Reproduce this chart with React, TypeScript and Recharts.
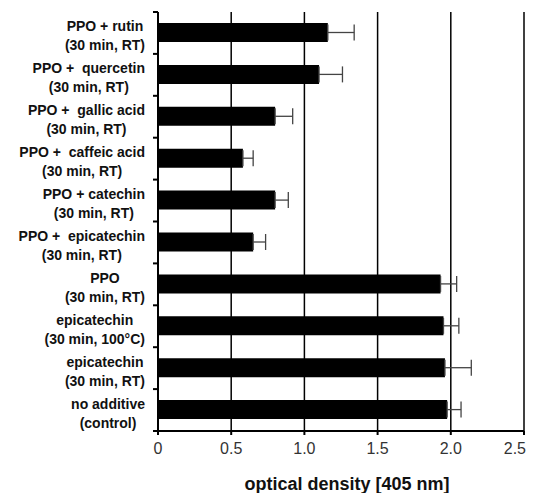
import React from 'react';
import { BarChart, Bar, XAxis, YAxis, CartesianGrid, ErrorBar } from 'recharts';

// top to bottom, as in the figure
const treatments = [
  'PPO + rutin',
  'PPO +  quercetin',
  'PPO +  gallic acid',
  'PPO +  caffeic acid',
  'PPO + catechin',
  'PPO +  epicatechin',
  'PPO',
  'epicatechin',
  'epicatechin',
  'no additive',
];
const conditions = [
  '(30 min, RT)',
  '(30 min, RT)',
  '(30 min, RT)',
  '(30 min, RT)',
  '(30 min, RT)',
  '(30 min, RT)',
  '(30 min, RT)',
  '(30 min, 100°C)',
  '(30 min, RT)',
  '(control)',
];
const density = [1.16, 1.1, 0.8, 0.58, 0.8, 0.65, 1.93, 1.95, 1.96, 1.975];
const sdUpper = [0.18, 0.16, 0.12, 0.07, 0.09, 0.085, 0.11, 0.105, 0.18, 0.095];
const xTicks = [0, 0.5, 1.0, 1.5, 2.0, 2.5];

const data = treatments.map((t, i) => ({
  name: t + '\n' + conditions[i],
  value: density[i],
  err: [0, sdUpper[i]],
}));

const W = 527;
const H = 485;
const MARGIN = { top: 4, right: 11, left: 0, bottom: 0 };
const Y_W = 150;
const X_H = 62;
const PLOT_LEFT = MARGIN.left + Y_W;
const PLOT_H = H - MARGIN.top - MARGIN.bottom - X_H;
const BAND = PLOT_H / data.length;
const FONT = '"Liberation Sans", Arial, Helvetica, sans-serif';

let ctx: CanvasRenderingContext2D | null = null;
const measure = (s: string) => {
  if (!ctx) ctx = document.createElement('canvas').getContext('2d');
  if (!ctx) return s.length * 8;
  ctx.font = `bold 14px ${FONT}`;
  return ctx.measureText(s.replace(/ /g, '\u00a0')).width;
};

const CategoryTick = (props: any) => {
  const { y, payload, index } = props;
  const [l1, l2] = String(payload.value).split('\n');
  const w = Math.max(measure(l1), measure(l2));
  const cx = PLOT_LEFT - 13 - w / 2;
  return (
    <g>
      <text x={cx} y={y - 6.5} textAnchor="middle" dominantBaseline="central" style={{ whiteSpace: 'pre' }}
        fontFamily={FONT} fontSize={14} fontWeight="bold" fill="#111">{l1}</text>
      <text x={cx} y={y + 12.5} textAnchor="middle" dominantBaseline="central"
        fontFamily={FONT} fontSize={14} fontWeight="bold" fill="#111">{l2}</text>
      {index === 0 && (
        <line x1={PLOT_LEFT - 5} x2={PLOT_LEFT} y1={y - BAND / 2} y2={y - BAND / 2} stroke="#000" strokeWidth={2} />
      )}
      <line x1={PLOT_LEFT - 5} x2={PLOT_LEFT} y1={y + BAND / 2} y2={y + BAND / 2} stroke="#000" strokeWidth={2} />
    </g>
  );
};

const ValueTick = (props: any) => {
  const { x, y, payload, index } = props;
  const v = Number(payload.value);
  const last = index === xTicks.length - 1;
  return (
    <text x={last ? x + 2 : x} y={y} dy={9} textAnchor={last ? 'end' : 'middle'} dominantBaseline="central"
      fontFamily={FONT} fontSize={16} fill="#333">{v === 0 ? '0' : v.toFixed(1)}</text>
  );
};

export default function App() {
  return (
    <div style={{ width: W, height: H, background: '#fff' }}>
      <style>{'body{overflow:hidden} svg.recharts-surface{overflow:visible}'}</style>
      <BarChart width={W} height={H} data={data} layout="vertical" margin={MARGIN} barCategoryGap={0}>
        <CartesianGrid horizontal={false} stroke="#000" strokeWidth={1.5} />
        <XAxis
          type="number"
          domain={[0, 2.5]}
          ticks={xTicks}
          interval={0}
          allowDataOverflow
          height={X_H}
          tickSize={4}
          tickMargin={4}
          tickLine={{ stroke: '#000', strokeWidth: 2 }}
          axisLine={{ stroke: '#000', strokeWidth: 2 }}
          tick={<ValueTick />}
          label={{
            value: 'optical density [405 nm]',
            position: 'insideBottom',
            offset: 3,
            dx: 6,
            style: { fontFamily: FONT, fontSize: 18, fontWeight: 'bold', fill: '#111' },
          }}
        />
        <XAxis
          xAxisId="top"
          orientation="top"
          type="number"
          domain={[0, 2.5]}
          height={0}
          tick={false}
          tickLine={false}
          axisLine={{ stroke: '#000', strokeWidth: 2.5 }}
        />
        <YAxis
          type="category"
          dataKey="name"
          width={Y_W}
          tickLine={false}
          axisLine={{ stroke: '#000', strokeWidth: 2 }}
          tick={<CategoryTick />}
          interval={0}
        />
        <YAxis
          yAxisId="right"
          orientation="right"
          type="category"
          dataKey="name"
          width={0}
          tick={false}
          tickLine={false}
          axisLine={{ stroke: '#222', strokeWidth: 2 }}
        />
        <Bar dataKey="value" fill="#000" barSize={19} isAnimationActive={false}>
          <ErrorBar dataKey="err" direction="x" width={8} stroke="#444" strokeWidth={1.3} isAnimationActive={false} />
        </Bar>
      </BarChart>
    </div>
  );
}
